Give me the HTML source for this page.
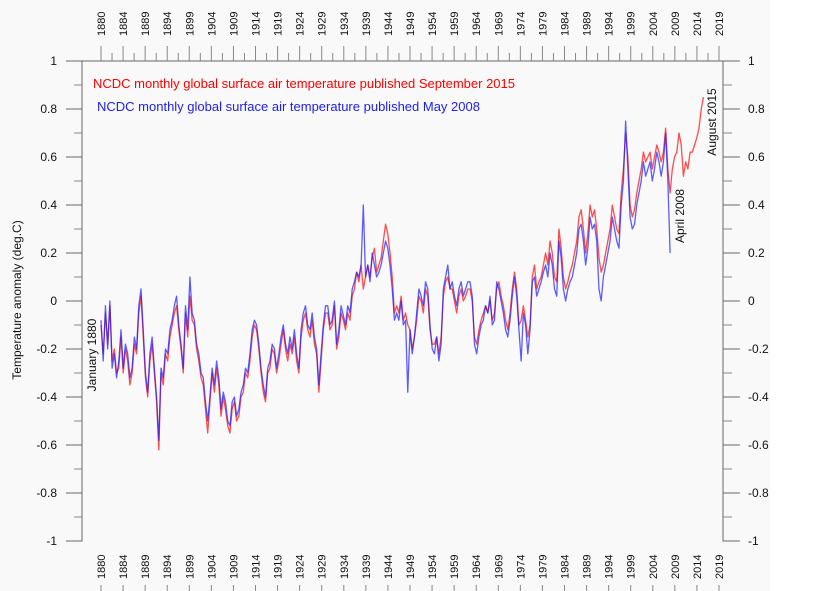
<!DOCTYPE html>
<html><head><meta charset="utf-8">
<style>
html,body{margin:0;padding:0;background:#fff;}
svg{display:block;font-family:"Liberation Sans",Arial,sans-serif;}
</style></head>
<body>
<svg id="chart" width="831" height="591" viewBox="0 0 831 591" xmlns="http://www.w3.org/2000/svg">
<rect x="0" y="0" width="770" height="591" fill="#f9f9f9"/>
<g id="axes"></g>
<g id="series"></g>
<text x="93" y="88" font-size="13" fill="#ff0000">NCDC monthly global surface air temperature published September 2015</text>
<text x="97" y="111" font-size="13" fill="#2020ee">NCDC monthly global surface air temperature published May 2008</text>
<text transform="translate(21,300) rotate(-90)" text-anchor="middle" font-size="12" fill="#111">Temperature anomaly (deg.C)</text>
<text transform="translate(96,355) rotate(-90)" text-anchor="middle" font-size="12" fill="#111">January 1880</text>
<text transform="translate(684,216) rotate(-90)" text-anchor="middle" font-size="12" fill="#111">April 2008</text>
<text transform="translate(716,122) rotate(-90)" text-anchor="middle" font-size="12" fill="#111">August 2015</text>
</svg>
<script>
const yTicks = [1,0.8,0.6,0.4,0.2,0,-0.2,-0.4,-0.6,-0.8,-1];
const yTickLabels = ["1","0.8","0.6","0.4","0.2","0","-0.2","-0.4","-0.6","-0.8","-1"];
const xTickLabels = ["1880","1884","1889","1894","1899","1904","1909","1914","1919","1924","1929","1934","1939","1944","1949","1954","1959","1964","1969","1974","1979","1984","1989","1994","1999","2004","2009","2014","2019"];
const xStartYear = 1880;
const xEndYear = 2019;
const redStartYear = 1880;
const redValues = [
-0.10,-0.22,-0.05,-0.18,-0.02,-0.25,-0.20,-0.30,-0.28,-0.15,-0.30,-0.20,-0.25,-0.35,-0.30,-0.18,-0.22,-0.05,0.02,-0.15,
-0.32,-0.40,-0.25,-0.18,-0.30,-0.42,-0.62,-0.30,-0.35,-0.22,-0.25,-0.15,-0.10,-0.05,-0.02,-0.12,-0.20,-0.30,-0.05,-0.15,
0.02,-0.08,-0.10,-0.20,-0.25,-0.32,-0.35,-0.45,-0.55,-0.42,-0.30,-0.38,-0.28,-0.35,-0.48,-0.40,-0.45,-0.52,-0.55,-0.45,
-0.42,-0.50,-0.48,-0.40,-0.38,-0.30,-0.32,-0.25,-0.15,-0.10,-0.12,-0.20,-0.30,-0.38,-0.42,-0.30,-0.28,-0.20,-0.22,-0.30,
-0.25,-0.18,-0.12,-0.20,-0.25,-0.18,-0.22,-0.15,-0.25,-0.30,-0.15,-0.08,-0.05,-0.12,-0.15,-0.08,-0.18,-0.22,-0.38,-0.25,
-0.12,-0.05,-0.05,-0.12,-0.10,-0.02,-0.20,-0.15,-0.05,-0.08,-0.12,-0.05,-0.08,0.02,0.05,0.12,0.08,0.15,0.05,0.10,
0.15,0.10,0.18,0.22,0.12,0.15,0.18,0.25,0.32,0.28,0.20,0.10,-0.05,-0.02,-0.05,0.02,-0.08,-0.05,-0.10,-0.12,
-0.20,-0.15,-0.08,0.02,0.00,-0.05,0.05,0.02,-0.12,-0.18,-0.18,-0.15,-0.22,-0.15,0.02,0.08,0.10,0.05,0.05,0.00,
-0.05,0.02,0.05,0.00,0.02,0.05,0.05,0.00,-0.15,-0.18,-0.12,-0.08,-0.05,-0.02,-0.05,0.00,-0.08,-0.05,0.05,0.08,
0.02,-0.02,-0.08,-0.12,-0.05,0.05,0.12,0.05,-0.10,-0.08,-0.02,-0.08,-0.15,-0.10,0.10,0.15,0.05,0.08,0.10,0.15,
0.20,0.15,0.25,0.20,0.10,0.08,0.30,0.22,0.10,0.05,0.08,0.12,0.15,0.20,0.25,0.35,0.38,0.30,0.20,0.28,
0.40,0.35,0.38,0.30,0.18,0.12,0.15,0.20,0.25,0.30,0.40,0.35,0.30,0.28,0.45,0.55,0.70,0.60,0.40,0.35,
0.38,0.45,0.50,0.55,0.62,0.58,0.60,0.62,0.55,0.60,0.65,0.62,0.58,0.62,0.72,0.55,0.45,0.55,0.60,0.62,
0.70,0.65,0.52,0.58,0.55,0.62,0.62,0.65,0.68,0.72,0.80,0.85];
const blueStartYear = 1880;
const blueValues = [
-0.08,-0.25,-0.02,-0.20,0.00,-0.28,-0.22,-0.32,-0.25,-0.12,-0.28,-0.18,-0.22,-0.32,-0.28,-0.15,-0.20,-0.02,0.05,-0.12,
-0.30,-0.38,-0.22,-0.15,-0.28,-0.40,-0.58,-0.28,-0.32,-0.20,-0.22,-0.12,-0.08,-0.02,0.02,-0.10,-0.18,-0.28,-0.02,-0.12,
0.10,-0.05,-0.08,-0.18,-0.22,-0.30,-0.32,-0.42,-0.50,-0.40,-0.28,-0.35,-0.25,-0.32,-0.45,-0.38,-0.42,-0.50,-0.52,-0.42,
-0.40,-0.48,-0.45,-0.38,-0.35,-0.28,-0.30,-0.22,-0.12,-0.08,-0.10,-0.18,-0.28,-0.35,-0.40,-0.28,-0.25,-0.18,-0.20,-0.28,
-0.22,-0.15,-0.10,-0.18,-0.22,-0.15,-0.20,-0.12,-0.22,-0.28,-0.12,-0.05,-0.02,-0.10,-0.12,-0.05,-0.15,-0.20,-0.35,-0.22,
-0.10,-0.02,-0.02,-0.10,-0.08,0.00,-0.18,-0.12,-0.02,-0.06,-0.10,-0.02,-0.05,0.05,0.08,0.12,0.10,0.15,0.40,0.10,
0.15,0.08,0.20,0.15,0.10,0.12,0.15,0.20,0.25,0.22,0.15,0.05,-0.08,-0.05,-0.08,0.00,-0.10,-0.08,-0.38,-0.12,
-0.22,-0.15,-0.05,0.05,0.02,-0.02,0.08,0.05,-0.10,-0.20,-0.22,-0.15,-0.25,-0.18,0.05,0.10,0.15,0.05,0.08,0.02,
-0.02,0.05,0.08,0.02,0.05,0.08,0.08,0.02,-0.18,-0.22,-0.15,-0.10,-0.08,-0.02,-0.05,0.02,-0.10,-0.08,0.08,0.05,
0.00,-0.05,-0.12,-0.15,-0.08,0.02,0.10,0.02,-0.12,-0.25,-0.05,-0.10,-0.22,-0.12,0.08,0.10,0.02,0.05,0.08,0.12,
0.15,0.10,0.20,0.15,0.05,0.02,0.25,0.18,0.05,0.00,0.05,0.08,0.10,0.15,0.20,0.30,0.32,0.25,0.15,0.22,
0.35,0.30,0.32,0.25,0.05,0.00,0.10,0.15,0.20,0.25,0.35,0.30,0.25,0.22,0.40,0.50,0.75,0.55,0.35,0.30,
0.32,0.40,0.45,0.50,0.58,0.52,0.55,0.58,0.50,0.55,0.62,0.58,0.52,0.58,0.70,0.50,0.20];

const NS = "http://www.w3.org/2000/svg";
const plotLeft = 82, plotRight = 723, plotTop = 61, plotBottom = 541;
const xYearLeft = 101, xYearRight = 719;
function xScale(year){ return xYearLeft + (year - xStartYear) * (xYearRight - xYearLeft) / (xEndYear - xStartYear); }
function yScale(v){ return plotBottom - (v + 1) * (plotBottom - plotTop) / 2; }
function mk(tag, attrs, parent){ const e = document.createElementNS(NS, tag); for (const k in attrs) e.setAttribute(k, attrs[k]); parent.appendChild(e); return e; }

const axes = document.getElementById('axes');
let el;
el = mk('path', {d:`M66 ${plotTop} H${plotRight} V${plotBottom} H740`, fill:'none', stroke:'#666', 'stroke-width':1}, axes);


el = mk('path', {d:`M${plotLeft} ${plotTop} V${plotBottom} H66`, fill:'none', stroke:'#666', 'stroke-width':1}, axes);



yTicks.forEach((v, i) => {
  const y = yScale(v);
  let t = mk('line', {x1:66, x2:plotLeft, y1:y, y2:y, stroke:'#666'}, axes);
  
  
  t = mk('line', {x1:plotRight, x2:740, y1:y, y2:y, stroke:'#666'}, axes);
  
  
  let lb = mk('text', {x:57, y:y+4, 'text-anchor':'end', 'font-size':12, fill:'#111'}, axes);
  lb.textContent = yTickLabels[i];
  
  
  lb = mk('text', {x:748, y:y+4, 'font-size':12, fill:'#111'}, axes);
  lb.textContent = yTickLabels[i];
  
  
  if (i < yTicks.length - 1) {
    const ym = yScale(v - 0.1);
    let m = mk('line', {x1:74, x2:plotLeft, y1:ym, y2:ym, stroke:'#888'}, axes);
    
    
    m = mk('line', {x1:plotRight, x2:732, y1:ym, y2:ym, stroke:'#888'}, axes);
    
    
  }
});

const nMajor = xTickLabels.length - 1;
const step = (xYearRight - xYearLeft) / nMajor;
for (let k = 0; k <= nMajor; k++) {
  const x = xYearLeft + k * step;
  let t = mk('line', {x1:x, x2:x, y1:46, y2:plotTop, stroke:'#888'}, axes);
  
  
  t = mk('line', {x1:x, x2:x, y1:585, y2:591, stroke:'#888'}, axes);
  
  
  const label = xTickLabels[k];
  let lb = mk('text', {transform:`translate(${x+4},36) rotate(-90)`, 'font-size':11, fill:'#111'}, axes);
  lb.textContent = label;
  
  
  lb = mk('text', {transform:`translate(${x+4},579) rotate(-90)`, 'font-size':11, fill:'#111'}, axes);
  lb.textContent = label;
  
  
  if (k < nMajor) {
    const xm = x + step / 2;
    let m = mk('line', {x1:xm, x2:xm, y1:53, y2:plotTop, stroke:'#888'}, axes);
    
    
  }
}

const series = document.getElementById('series');
function pathFor(vals, start){
  return vals.map((v, i) => (i ? 'L' : 'M') + xScale(start + i * 0.5).toFixed(2) + ' ' + yScale(v).toFixed(2)).join(' ');
}
const red = mk('path', {d:pathFor(redValues, redStartYear), fill:'none', stroke:'#ff2020', 'stroke-width':1.3, 'stroke-opacity':0.8, 'stroke-linejoin':'round'}, series);


const blue = mk('path', {d:pathFor(blueValues, blueStartYear), fill:'none', stroke:'#1a1aff', 'stroke-width':1.3, 'stroke-opacity':0.7, 'stroke-linejoin':'round'}, series);


</script>
</body></html>
